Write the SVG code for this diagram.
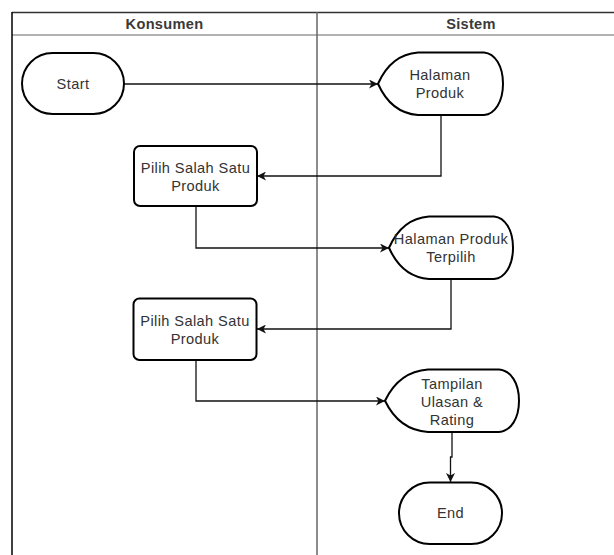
<svg xmlns="http://www.w3.org/2000/svg" width="614" height="555" viewBox="0 0 614 555">
  <style>
    .lbl { font-family: "Liberation Sans", Arial, sans-serif; font-size: 14.6px; letter-spacing: 0.4px; fill: #333; text-anchor: middle; }
    .hdr { font-family: "Liberation Sans", Arial, sans-serif; font-size: 14.6px; font-weight: bold; letter-spacing: 0.3px; fill: #3a3a3a; text-anchor: middle; }
    .shape { fill: #fff; stroke: #000; stroke-width: 2; }
    .edge { fill: none; stroke: #111; stroke-width: 1.3; }
  </style>
  <defs>
    <marker id="arrow" markerUnits="userSpaceOnUse" markerWidth="10" markerHeight="9" refX="9" refY="4.5" orient="auto">
      <path d="M0,0 L9,4.5 L0,9 L2.5,4.5 Z" fill="#111"/>
    </marker>
  </defs>
  <rect x="0" y="0" width="614" height="555" fill="#fff"/>

  <!-- swimlanes -->
  <g id="lanes">
    <line x1="12" y1="12.5" x2="614" y2="12.5" stroke="#333" stroke-width="1.3"/>
    <line x1="12" y1="35" x2="614" y2="35" stroke="#999" stroke-width="1.5"/>
    <line x1="12" y1="12" x2="12" y2="555" stroke="#000" stroke-width="1.5"/>
    <line x1="317" y1="12" x2="317" y2="555" stroke="#666" stroke-width="1.5"/>
    <text class="hdr" x="164.5" y="29">Konsumen</text>
    <text class="hdr" x="471" y="29">Sistem</text>
  </g>

  <!-- connectors -->
  <g id="connectors">
    <path class="edge" d="M124,84 H378" marker-end="url(#arrow)"/>
    <path class="edge" d="M441,115 V176 H257" marker-end="url(#arrow)"/>
    <path class="edge" d="M196,206 V248 H389" marker-end="url(#arrow)"/>
    <path class="edge" d="M451,279 V329 H257" marker-end="url(#arrow)"/>
    <path class="edge" d="M196,360 V401 H385" marker-end="url(#arrow)"/>
    <path class="edge" d="M452,432 V457 H450.5 V482" marker-end="url(#arrow)"/>
  </g>

  <g id="start">
    <rect class="shape" x="22" y="53" width="102" height="61" rx="30.5" ry="30.5"/>
    <text class="lbl" x="73" y="89">Start</text>
  </g>

  <g id="halaman-produk">
    <path class="shape" d="M378,83.75 Q391,54.5 418,52.5 H484 C495,53.5 503,66 503,83.75 C503,101.5 495,114 484,115 H418 Q391,113 378,83.75 Z"/>
    <text class="lbl" x="440" y="80">Halaman</text>
    <text class="lbl" x="440" y="98">Produk</text>
  </g>

  <g id="pilih-produk-1">
    <rect class="shape" x="134" y="146" width="123" height="60" rx="6" ry="6"/>
    <text class="lbl" x="195.5" y="173">Pilih Salah Satu</text>
    <text class="lbl" x="195.5" y="190.5">Produk</text>
  </g>

  <g id="halaman-produk-terpilih">
    <path class="shape" d="M389,247.75 Q402,218.5 429,216.5 H494 C505,217.5 513,230 513,247.75 C513,265.5 505,278 494,279 H429 Q402,277 389,247.75 Z"/>
    <text class="lbl" x="451" y="244">Halaman Produk</text>
    <text class="lbl" x="451" y="262">Terpilih</text>
  </g>

  <g id="pilih-produk-2">
    <rect class="shape" x="133.5" y="298.5" width="123" height="61.5" rx="6" ry="6"/>
    <text class="lbl" x="195" y="326">Pilih Salah Satu</text>
    <text class="lbl" x="195" y="343.5">Produk</text>
  </g>

  <g id="tampilan-ulasan">
    <path class="shape" d="M385,400.75 Q399,371.5 428,369.5 H499 C511,370.5 519,383 519,400.75 C519,418.5 511,431 499,432 H428 Q399,430 385,400.75 Z"/>
    <text class="lbl" x="452" y="388.5">Tampilan</text>
    <text class="lbl" x="452" y="406.5">Ulasan &amp;</text>
    <text class="lbl" x="452" y="425">Rating</text>
  </g>

  <g id="end">
    <rect class="shape" x="399" y="482.5" width="103" height="61.5" rx="30.75" ry="30.75"/>
    <text class="lbl" x="450.5" y="518">End</text>
  </g>
</svg>
